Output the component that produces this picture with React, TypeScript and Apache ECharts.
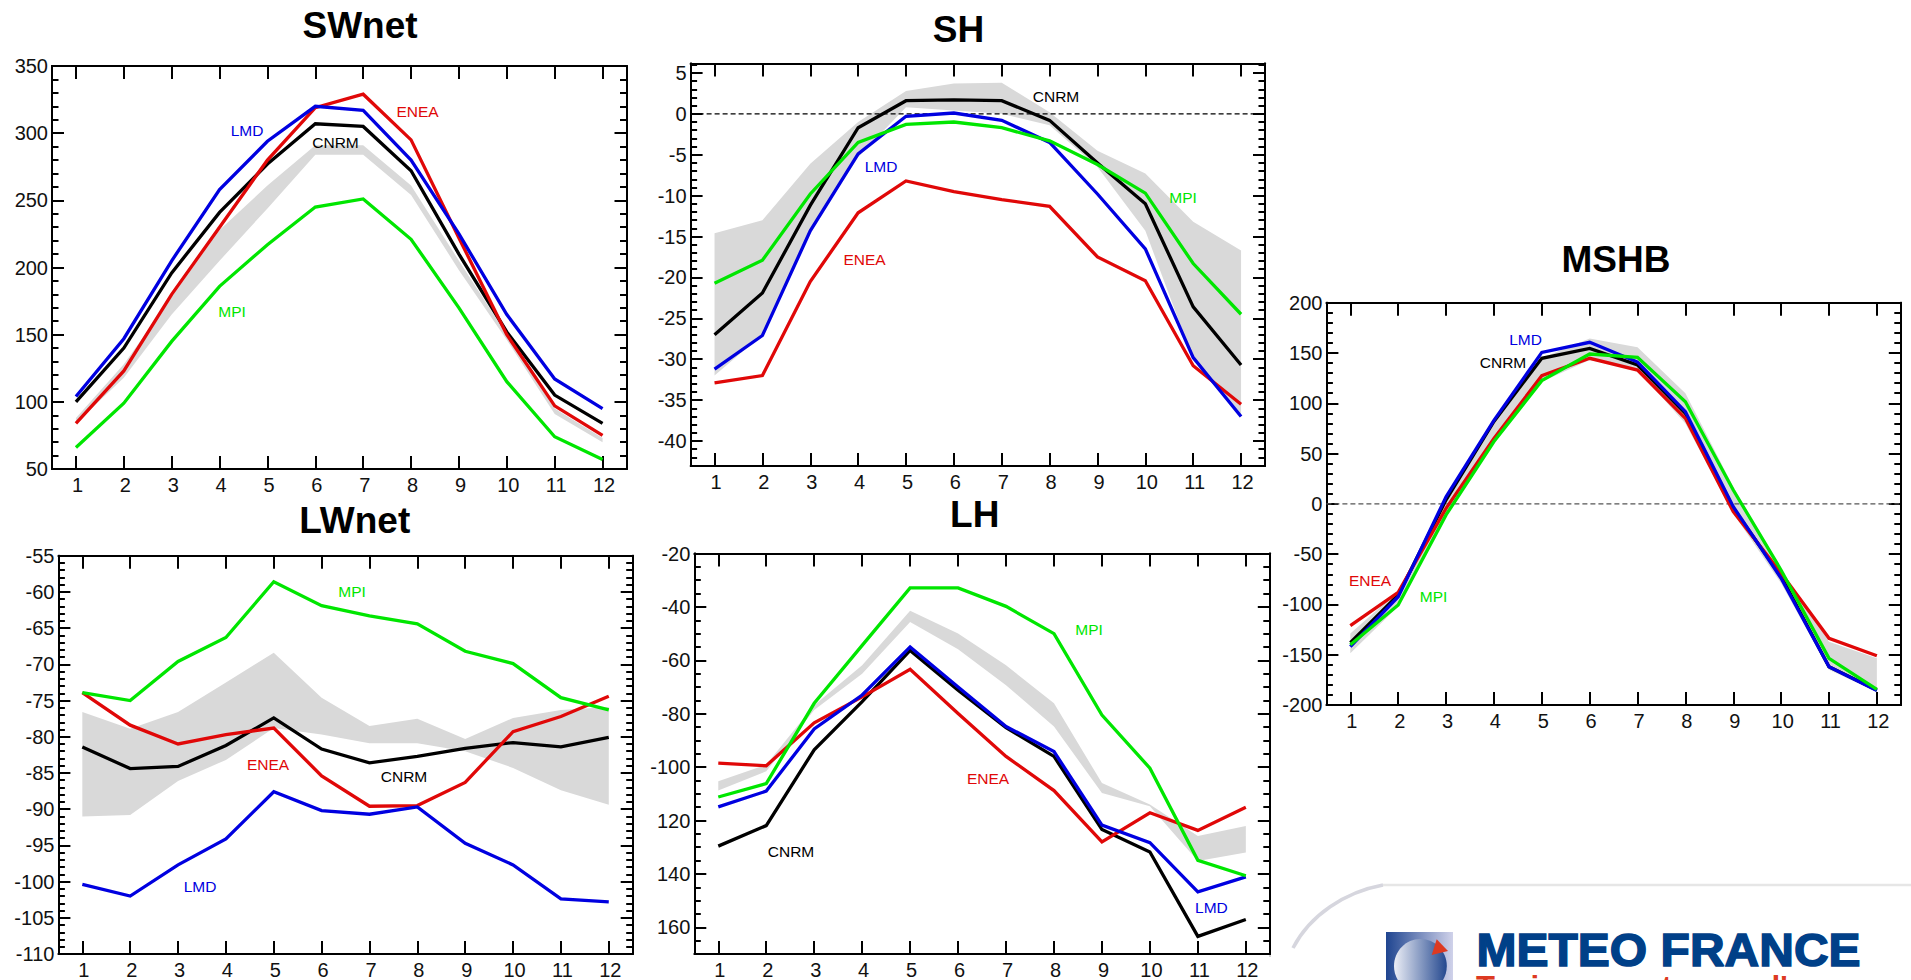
import React, { useEffect, useRef } from "react";
import * as echarts from "echarts";

const months = [1, 2, 3, 4, 5, 6, 7, 8, 9, 10, 11, 12];

const swCnrm = [100, 140, 196, 241, 277, 307, 305, 272, 210, 152, 105, 84];
const swEnea = [84, 123, 180, 230, 280, 319, 329, 295, 222, 150, 97, 75];
const swLmd = [104, 147, 205, 258, 294, 320, 317, 280, 225, 165, 117, 95];
const swMpi = [66, 99, 145, 186, 217, 245, 251, 221, 170, 115, 74, 57];
const swLow = [84, 118, 165, 205, 244, 284, 284, 254, 198, 146, 91, 70];
const swUp = [88, 128, 178, 228, 261, 291, 291, 261, 205, 150, 95, 73];

const shCnrm = [-27, -21.9, -11.2, -1.7, 1.6, 1.7, 1.6, -0.8, -6, -11, -23.6, -30.7];
const shEnea = [-32.9, -32, -20.5, -12.1, -8.2, -9.5, -10.5, -11.3, -17.5, -20.4, -30.8, -35.5];
const shLmd = [-31.2, -27.1, -14.3, -4.9, -0.3, 0.1, -0.8, -3.5, -9.8, -16.5, -29.8, -37];
const shMpi = [-20.7, -17.9, -9.8, -3.5, -1.3, -1, -1.7, -3.3, -6.2, -9.7, -18.3, -24.5];
const shLow = [-32, -27, -14.3, -5.3, 0.8, 0.4, 0, -1.4, -6.5, -14.3, -30, -37];
const shUp = [-14.6, -13, -6.1, -1, 2.8, 3.7, 3.8, 0.2, -4.5, -7.3, -13.2, -16.7];

const lwCnrm = [-81.4, -84.4, -84.1, -81.2, -77.4, -81.7, -83.6, -82.7, -81.6, -80.8, -81.4, -80.1];
const lwEnea = [-73.9, -78.4, -81, -79.7, -78.8, -85.4, -89.6, -89.5, -86.3, -79.3, -77.2, -74.4];
const lwLmd = [-100.4, -102, -97.7, -94.1, -87.6, -90.2, -90.7, -89.7, -94.7, -97.7, -102.4, -102.8];
const lwMpi = [-73.9, -75, -69.6, -66.3, -58.6, -61.9, -63.3, -64.4, -68.2, -69.9, -74.6, -76.3];
const lwLow = [-91, -90.8, -86.1, -83.2, -78.8, -79.7, -80.9, -80.9, -82, -84.3, -87.4, -89.4];
const lwUp = [-76.6, -78.9, -76.6, -72.5, -68.4, -74.6, -78.5, -77.5, -80.3, -77.4, -76.3, -75.9];

const lhCnrm = [-129.6, -121.9, -93.5, -75.5, -56.3, -71.2, -85.2, -96, -123.4, -131.8, -163.4, -157.1];
const lhEnea = [-98.5, -99.5, -83.4, -73.7, -63.4, -79.9, -96, -108.8, -128, -117.1, -123.7, -115];
const lhLmd = [-114.9, -109, -85.7, -73, -55, -70, -84.8, -94.2, -121.7, -128.3, -146.7, -141.1];
const lhMpi = [-111.2, -106.2, -76.1, -54.4, -32.9, -32.9, -39.8, -50, -80.5, -100.4, -134.9, -140.7];
const lhLow = [-108.8, -101.6, -78.6, -65, -45.7, -55.9, -69.3, -84.8, -109.7, -114.7, -135.2, -132];
const lhUp = [-105.3, -99.1, -76.8, -61.9, -41.4, -50, -61.9, -76.1, -106, -114, -125.8, -122.1];

const msCnrm = [-138, -90.6, 4, 82, 144.7, 154.6, 138, 90, -4.5, -72, -162, -185];
const msEnea = [-121, -88, -4.5, 65, 127.4, 144.7, 133, 85, -7.8, -69, -133.7, -151];
const msLmd = [-142, -92.3, 7, 83, 150.6, 160.6, 141, 91.6, -2.8, -74, -162, -185.7];
const msMpi = [-140, -100.6, -11, 62, 122.5, 149, 145.6, 101.6, 13.8, -66, -153.6, -184.4];
const msLow = [-148.6, -102, -13, 60, 121.5, 143, 133, 80, -9.5, -79, -165, -187];
const msUp = [-129, -87, 5.5, 83, 145, 164.5, 155.6, 110, 17, -66, -137, -153.6];

const swTicks = [50, 100, 150, 200, 250, 300, 350];
const shTicks = [-40, -35, -30, -25, -20, -15, -10, -5, 0, 5];
const lwTicks = [-110, -105, -100, -95, -90, -85, -80, -75, -70, -65, -60, -55];
const lhTicks = [-160, -140, -120, -100, -80, -60, -40, -20];
const msTicks = [-200, -150, -100, -50, 0, 50, 100, 150, 200];

const FONT = '"Liberation Sans", Arial, sans-serif';
const COLORS: Record<string, string> = { CNRM: "#000000", ENEA: "#e00808", LMD: "#0000e0", MPI: "#00e600" };
const BAND = "#d9d9d9";

function range(from: number, to: number, step: number) {
  const out: number[] = [];
  for (let v = from; v <= to + 1e-9; v += step) out.push(v);
  return out;
}

const panels = [
  {
    title: "SWnet", tx: 360, ty: 25, left: 52, top: 66, width: 574.5, height: 403, min: 50, max: 350,
    ticks: swTicks, minorStep: 10, lines: { CNRM: swCnrm, ENEA: swEnea, LMD: swLmd, MPI: swMpi }, low: swLow, up: swUp, zero: null,
    labels: [["LMD", 247, 130], ["ENEA", 417.5, 111.7], ["CNRM", 335.5, 142.7], ["MPI", 232, 311]],
  },
  {
    title: "SH", tx: 958.5, ty: 29, left: 690.6, top: 63.5, width: 574.4, height: 402.5, min: -43.05, max: 6.15,
    ticks: shTicks, minorStep: 1, lines: { CNRM: shCnrm, ENEA: shEnea, LMD: shLmd, MPI: shMpi }, low: shLow, up: shUp, zero: "#000000",
    labels: [["CNRM", 1056, 96.7], ["LMD", 881, 166], ["MPI", 1183, 197], ["ENEA", 864.5, 259]],
  },
  {
    title: "LWnet", tx: 354.7, ty: 520, left: 58.4, top: 555.7, width: 574.3, height: 402.3, min: -110, max: -55,
    ticks: lwTicks, minorStep: 1, lines: { CNRM: lwCnrm, ENEA: lwEnea, LMD: lwLmd, MPI: lwMpi }, low: lwLow, up: lwUp, zero: null,
    labels: [["MPI", 352, 591.7], ["ENEA", 268, 764], ["CNRM", 404, 776], ["LMD", 200, 886]],
  },
  {
    title: "LH", tx: 974.7, ty: 514, left: 694.3, top: 553.5, width: 575.5, height: 403.2, min: -170, max: -20,
    ticks: lhTicks, minorStep: 5, lines: { CNRM: lhCnrm, ENEA: lhEnea, LMD: lhLmd, MPI: lhMpi }, low: lhLow, up: lhUp, zero: null,
    labels: [["MPI", 1089, 629], ["ENEA", 988, 778], ["CNRM", 791, 851], ["LMD", 1211.4, 907.7]],
  },
  {
    title: "MSHB", tx: 1616, ty: 259, left: 1326.4, top: 302.7, width: 574.4, height: 402.3, min: -200, max: 200,
    ticks: msTicks, minorStep: 10, lines: { CNRM: msCnrm, ENEA: msEnea, LMD: msLmd, MPI: msMpi }, low: msLow, up: msUp, zero: "#555555",
    labels: [["LMD", 1525.5, 339], ["CNRM", 1503, 362], ["ENEA", 1370, 580], ["MPI", 1433.5, 596.7]],
  },
];

const tickLabel = (v: number) => (v <= -100 && lhTicks.includes(v) && !lwTicks.includes(v) && !msTicks.includes(v) ? String(-v) : String(v));

function buildOption() {
  const grid: any[] = [];
  const xAxis: any[] = [];
  const yAxis: any[] = [];
  const series: any[] = [];
  const graphic: any[] = [];
  const line = { show: true, onZero: false, lineStyle: { color: "#000", width: 2 } };

  panels.forEach((p, i) => {
    grid.push({ left: p.left, top: p.top, width: p.width, height: p.height, containLabel: false });
    const minor = range(Math.ceil(p.min / p.minorStep) * p.minorStep, p.max, p.minorStep).filter((v) => !p.ticks.includes(v));
    const baseX = { type: "value", gridIndex: i, min: 0.5, max: 12.5, splitLine: { show: false }, axisLine: line };
    xAxis.push({
      ...baseX, position: "bottom",
      axisTick: { show: true, inside: true, length: 13, customValues: months, lineStyle: { color: "#000", width: 2 } },
      axisLabel: { show: true, customValues: months, fontFamily: FONT, fontSize: 20, color: "#111", margin: 6, padding: [0, 0, 0, 3] },
    });
    xAxis.push({
      ...baseX, position: "top",
      axisTick: { show: true, inside: true, length: 13, customValues: months, lineStyle: { color: "#000", width: 2 } },
      axisLabel: { show: false },
    });
    const baseY = { type: "value", gridIndex: i, min: p.min, max: p.max, splitLine: { show: false }, axisLine: line };
    ["left", "right"].forEach((pos) => {
      yAxis.push({
        ...baseY, position: pos,
        axisTick: { show: true, inside: true, length: 12, customValues: p.ticks, lineStyle: { color: "#000", width: 2 } },
        axisLabel: pos === "left"
          ? { show: true, customValues: p.ticks, formatter: tickLabel, fontFamily: FONT, fontSize: 20, color: "#111", margin: 4, hideOverlap: false }
          : { show: false },
      });
      yAxis.push({
        ...baseY, position: pos,
        axisTick: { show: true, inside: true, length: 6.5, customValues: minor, lineStyle: { color: "#000", width: 2 } },
        axisLabel: { show: false },
      });
    });
    const xAxisIndex = i * 2;
    const yAxisIndex = i * 4;
    series.push({
      type: "custom", xAxisIndex, yAxisIndex, silent: true, z: 1,
      data: months.map((m, k) => [m, p.low[k], p.up[k]]),
      encode: { x: 0, y: [1, 2] },
      renderItem: (params: any, api: any) => {
        if (params.dataIndex !== 0) return undefined;
        const upper = months.map((m, k) => api.coord([m, p.up[k]]));
        const lower = months.map((m, k) => api.coord([m, p.low[k]])).reverse();
        return { type: "polygon", shape: { points: upper.concat(lower) }, style: { fill: BAND, stroke: "none" } };
      },
    });
    if (p.zero) {
      series.push({
        type: "line", xAxisIndex, yAxisIndex, symbol: "none", silent: true, z: 2,
        data: [[0.5, 0], [12.5, 0]],
        lineStyle: { color: p.zero, width: 1.3, type: [5, 3] },
      });
    }
    Object.entries(p.lines).forEach(([name, vals]) => {
      series.push({
        type: "line", name, xAxisIndex, yAxisIndex, symbol: "none", z: 3, silent: true,
        data: months.map((m, k) => [m, (vals as number[])[k]]),
        lineStyle: { color: COLORS[name], width: 3.3, join: "miter" },
      });
    });
    graphic.push({
      type: "text", x: p.tx, y: p.ty, z: 10,
      style: { text: p.title, font: `bold 37px ${FONT}`, fill: "#000", textAlign: "center", textVerticalAlign: "middle" },
    });
    p.labels.forEach(([name, x, y]) => {
      graphic.push({
        type: "text", x, y, z: 10,
        style: { text: name, font: `15.5px ${FONT}`, fill: COLORS[name as string], textAlign: "center", textVerticalAlign: "middle" },
      });
    });
  });

  // logo block, bottom right
  graphic.push({ type: "line", shape: { x1: 1270, y1: 553, x2: 1270, y2: 957 }, style: { stroke: "#aaaaaa", lineWidth: 1 } });
  graphic.push({ type: "bezierCurve", shape: { x1: 1293, y1: 948, cpx1: 1310, cpy1: 915, cpx2: 1345, cpy2: 892, x2: 1383, y2: 885 }, style: { stroke: "#d6d6de", lineWidth: 3.5, fill: "none" } });
  graphic.push({ type: "line", shape: { x1: 1383, y1: 885, x2: 1911, y2: 885 }, style: { stroke: "#e6e6e6", lineWidth: 2.5 } });
  graphic.push({
    type: "rect", shape: { x: 1386, y: 932, width: 67, height: 48 },
    style: { fill: new echarts.graphic.LinearGradient(0, 0, 1, 0, [{ offset: 0, color: "#1f4590" }, { offset: 1, color: "#d0d2ea" }]) },
  });
  graphic.push({
    type: "ellipse", shape: { cx: 1420.4, cy: 966, rx: 26.4, ry: 27 },
    style: { fill: new echarts.graphic.LinearGradient(0, 0, 1, 0, [{ offset: 0, color: "#eceef6" }, { offset: 1, color: "#24488f" }]) },
  });
  graphic.push({ type: "polygon", shape: { points: [[1436.7, 939.3], [1448, 951], [1431.7, 955]] }, style: { fill: "#dd3a22" } });
  graphic.push({
    type: "text", x: 1476.5, y: 950, scaleX: 1.022,
    style: { text: "METEO FRANCE", font: `bold 47px ${FONT}`, fill: "#004088", stroke: "#004088", lineWidth: 1.5, textAlign: "left", textVerticalAlign: "middle" },
  });
  graphic.push({
    type: "text", x: 1476, y: 972,
    style: { text: "Toujours un temps d'avance", font: `bold 31px ${FONT}`, fill: "#dd3a22", textAlign: "left", textVerticalAlign: "top" },
  });

  return { animation: false, backgroundColor: "#fff", grid, xAxis, yAxis, series, graphic };
}

export default function App() {
  const ref = useRef<HTMLDivElement>(null);
  useEffect(() => {
    document.body.style.margin = "0";
    const chart = echarts.init(ref.current!, undefined, { renderer: "svg" });
    chart.setOption(buildOption() as any);
    return () => chart.dispose();
  }, []);
  return <div ref={ref} style={{ width: 1911, height: 980, overflow: "hidden" }} />;
}
